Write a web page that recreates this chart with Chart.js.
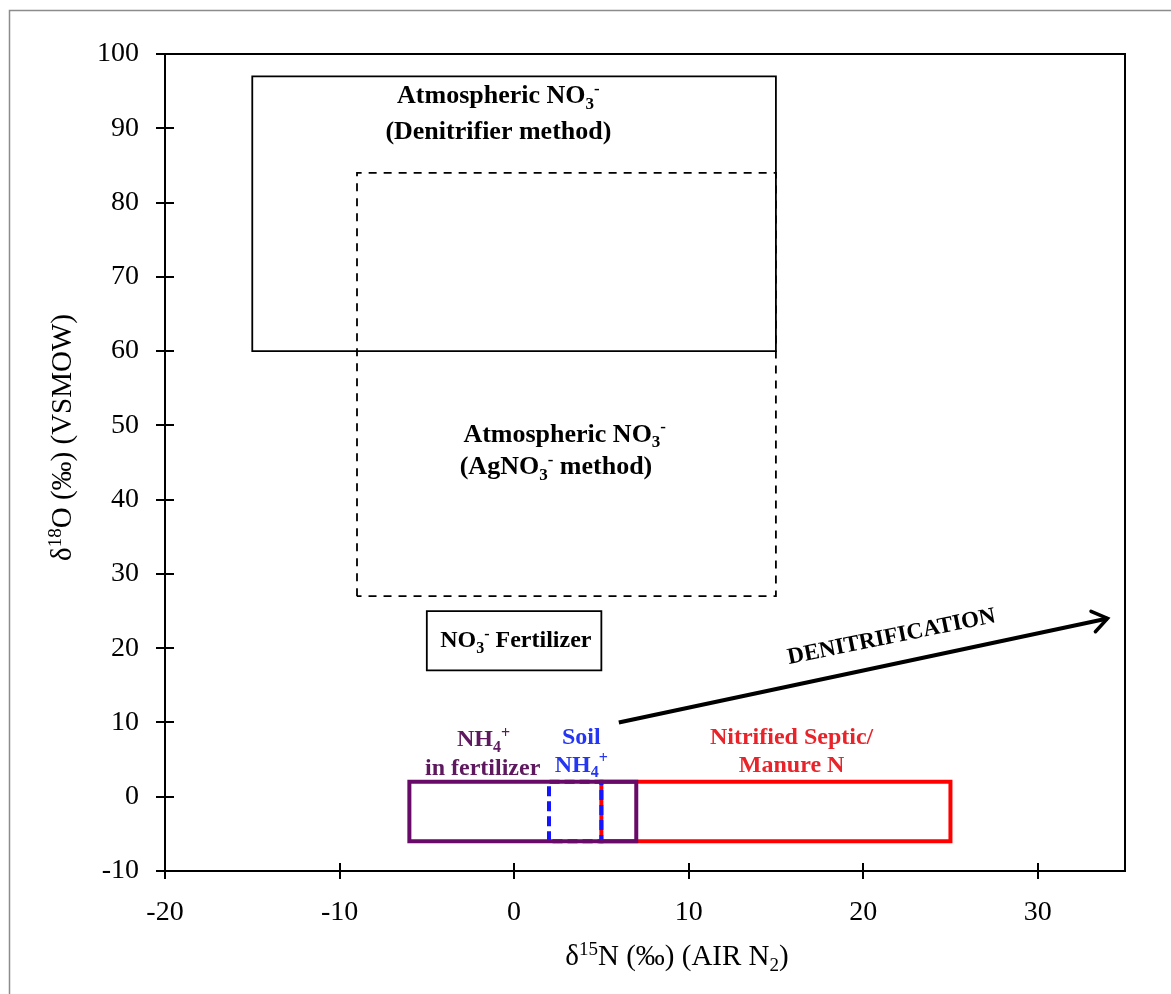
<!DOCTYPE html>
<html>
<head>
<meta charset="utf-8">
<script src="https://cdn.jsdelivr.net/npm/chart.js@4.4.1/dist/chart.umd.min.js"></script>
<style>
  body { margin: 0; background: #fff; }
  canvas { display: block; }
</style>
</head>
<body>
<canvas id="isoChart" width="1171" height="994"></canvas>
<script>
var xTicks = [-20, -10, 0, 10, 20, 30];
var yTicks = [-10, 0, 10, 20, 30, 40, 50, 60, 70, 80, 90, 100];

// nitrate source fields: d15N range (x) and d18O range (y), drawn bottom to top
var fieldNames = ['atmDenitrifier', 'atmAgNO3', 'no3Fertilizer', 'septicManure', 'soilNH4', 'nh4Fertilizer'];
var fieldN15Min = [-15, -9, -5, 5, 2, -6];
var fieldN15Max = [15, 15, 5, 25, 5, 7];
var fieldO18Min = [60, 27, 17, -6, -6, -6];
var fieldO18Max = [97, 84, 25, 2, 2, 2];

// denitrification trend arrow
var denitN15 = [6, 34];
var denitO18 = [10, 24];

var SERIF = '"Liberation Serif", "Times New Roman", serif';

var fieldStyle = {
    atmDenitrifier: { color: '#000000', width: 1.8, dash: [] },
    atmAgNO3:       { color: '#000000', width: 1.8, dash: [8, 7] },
    no3Fertilizer:  { color: '#000000', width: 1.8, dash: [] },
    septicManure:   { color: '#ff0000', width: 4, dash: [] },
    soilNH4:        { color: '#1414ff', width: 4, dash: [10, 5] },
    nh4Fertilizer:  { color: '#680a68', width: 4, dash: [] }
};

// text runs: [text, ''|'sub'|'sup'], anchored at the baseline centre
var boxLabels = [
    { x: -0.9, y: 93.4, size: 26, color: '#000', runs: [['Atmospheric NO', ''], ['3', 'sub'], ['-', 'sup']] },
    { x: -0.9, y: 88.6, size: 26, color: '#000', runs: [['(Denitrifier method)', '']] },
    { x: 2.9, y: 47.8, size: 26, color: '#000', runs: [['Atmospheric NO', ''], ['3', 'sub'], ['-', 'sup']] },
    { x: 2.4, y: 43.4, size: 26, color: '#000', runs: [['(AgNO', ''], ['3', 'sub'], ['-', 'sup'], [' method)', '']] },
    { x: 0.1, y: 20.1, size: 24, color: '#000', runs: [['NO', ''], ['3', 'sub'], ['-', 'sup'], [' Fertilizer', '']] },
    { x: -1.75, y: 6.8, size: 24, color: '#5e185e', runs: [['NH', ''], ['4', 'sub'], ['+', 'sup']] },
    { x: -1.8, y: 2.9, size: 24, color: '#5e185e', runs: [['in fertilizer', '']] },
    { x: 3.85, y: 7.05, size: 24, color: '#2436f2', runs: [['Soil', '']] },
    { x: 3.85, y: 3.35, size: 24, color: '#2436f2', runs: [['NH', ''], ['4', 'sub'], ['+', 'sup']] },
    { x: 15.9, y: 7.05, size: 24, color: '#e8242a', runs: [['Nitrified Septic/', '']] },
    { x: 15.9, y: 3.3, size: 24, color: '#e8242a', runs: [['Manure N', '']] }
];

function runFont(size, kind, bold) {
    var s = kind ? Math.round(size * 0.65) : size;
    return (bold ? 'bold ' : '') + s + 'px ' + SERIF;
}

function runsWidth(ctx, runs, size, bold) {
    var w = 0;
    runs.forEach(function (r) {
        ctx.font = runFont(size, r[1], bold);
        w += ctx.measureText(r[0]).width;
    });
    return w;
}

// draws runs centred on x with the baseline at y
function drawRuns(ctx, runs, x, y, size, bold) {
    var cx = x - runsWidth(ctx, runs, size, bold) / 2;
    ctx.textAlign = 'left';
    ctx.textBaseline = 'alphabetic';
    runs.forEach(function (r) {
        ctx.font = runFont(size, r[1], bold);
        var dy = r[1] === 'sub' ? size * 0.22 : (r[1] === 'sup' ? -size * 0.36 : 0);
        ctx.fillText(r[0], cx, y + dy);
        cx += ctx.measureText(r[0]).width;
    });
}

function boxPoints(i, closeTwice) {
    var x0 = fieldN15Min[i], x1 = fieldN15Max[i];
    var y0 = fieldO18Min[i], y1 = fieldO18Max[i];
    var pts = [{ x: x0, y: y0 }, { x: x0, y: y1 }, { x: x1, y: y1 }, { x: x1, y: y0 }, { x: x0, y: y0 }];
    if (closeTwice) pts.push({ x: x0, y: y1 });
    return pts;
}

var datasets = fieldNames.map(function (name, i) {
    var st = fieldStyle[name];
    return {
        label: name,
        data: boxPoints(i, st.dash.length === 0),
        showLine: true,
        fill: false,
        borderColor: st.color,
        borderWidth: st.width,
        borderDash: st.dash,
        borderJoinStyle: 'miter',
        pointRadius: 0,
        tension: 0,
        order: fieldNames.length - i + 1
    };
});

datasets.push({
    label: 'denitrification',
    data: denitN15.map(function (v, i) { return { x: v, y: denitO18[i] }; }),
    showLine: true,
    fill: false,
    borderColor: '#000',
    borderWidth: 4,
    pointRadius: 0,
    order: 0
});

var decorPlugin = {
    id: 'decor',
    beforeDraw: function (chart) {
        var ctx = chart.ctx;
        ctx.save();
        ctx.fillStyle = '#fff';
        ctx.fillRect(0, 0, chart.width, chart.height);
        ctx.strokeStyle = '#8c8c8c';
        ctx.lineWidth = 1.5;
        ctx.beginPath();
        ctx.moveTo(9.5, chart.height + 5);
        ctx.lineTo(9.5, 10.5);
        ctx.lineTo(chart.width + 5, 10.5);
        ctx.stroke();
        ctx.restore();
    },
    afterDatasetsDraw: function (chart) {
        var ctx = chart.ctx;
        var xs = chart.scales.x, ys = chart.scales.y;
        var a = chart.chartArea;
        ctx.save();

        // frame and crossing tick marks
        ctx.strokeStyle = '#000';
        ctx.lineWidth = 2;
        ctx.strokeRect(a.left, a.top, a.right - a.left, a.bottom - a.top);
        ctx.beginPath();
        yTicks.forEach(function (v) {
            var py = Math.round(ys.getPixelForValue(v));
            ctx.moveTo(a.left - 9, py);
            ctx.lineTo(a.left + 9, py);
        });
        xTicks.forEach(function (v) {
            var px = Math.round(xs.getPixelForValue(v));
            ctx.moveTo(px, a.bottom - 8);
            ctx.lineTo(px, a.bottom + 8);
        });
        ctx.stroke();

        // arrow head
        var x0 = xs.getPixelForValue(denitN15[0]), y0 = ys.getPixelForValue(denitO18[0]);
        var x1 = xs.getPixelForValue(denitN15[1]), y1 = ys.getPixelForValue(denitO18[1]);
        var ang = Math.atan2(y1 - y0, x1 - x0);
        var len = 18, spread = 0.62;
        ctx.lineWidth = 3.5;
        ctx.lineCap = 'round';
        ctx.lineJoin = 'miter';
        ctx.beginPath();
        ctx.moveTo(x1 - len * Math.cos(ang - spread), y1 - len * Math.sin(ang - spread));
        ctx.lineTo(x1, y1);
        ctx.lineTo(x1 - len * Math.cos(ang + spread), y1 - len * Math.sin(ang + spread));
        ctx.stroke();

        // field labels
        boxLabels.forEach(function (lb) {
            ctx.fillStyle = lb.color;
            drawRuns(ctx, lb.runs, xs.getPixelForValue(lb.x), ys.getPixelForValue(lb.y), lb.size, true);
        });

        // arrow label, along the trend
        ctx.fillStyle = '#000';
        ctx.translate(xs.getPixelForValue(21.7), ys.getPixelForValue(20.7));
        ctx.rotate(-0.2);
        drawRuns(ctx, [['DENITRIFICATION', '']], 0, 0, 23, true);
        ctx.restore();

        // axis titles
        ctx.save();
        ctx.fillStyle = '#000';
        var midX = (a.left + a.right) / 2;
        drawRuns(ctx, [['δ', ''], ['15', 'sup'], ['N (‰) (AIR N', ''], ['2', 'sub'], [')', '']],
            midX + 32, a.bottom + 94, 29, false);
        var midY = (a.top + a.bottom) / 2;
        ctx.translate(71, midY - 25);
        ctx.rotate(-Math.PI / 2);
        drawRuns(ctx, [['δ', ''], ['18', 'sup'], ['O (‰) (VSMOW)', '']], 0, 0, 29, false);
        ctx.restore();
    }
};

var ctx = document.getElementById('isoChart').getContext('2d');
var chart = new Chart(ctx, {
    type: 'scatter',
    data: { datasets: datasets },
    options: {
        responsive: false,
        animation: false,
        devicePixelRatio: 1,
        layout: { padding: { top: 54, right: 46, left: 0, bottom: 0 } },
        plugins: {
            legend: { display: false },
            tooltip: { enabled: false }
        },
        scales: {
            x: {
                type: 'linear',
                min: -20,
                max: 35,
                afterBuildTicks: function (s) { s.ticks = xTicks.map(function (v) { return { value: v }; }); },
                afterFit: function (s) { s.height = 123; },
                grid: { display: false, drawTicks: false },
                border: { display: false },
                ticks: { color: '#000', padding: 25, maxRotation: 0, font: { family: SERIF, size: 28 } }
            },
            y: {
                type: 'linear',
                min: -10,
                max: 100,
                afterBuildTicks: function (s) { s.ticks = yTicks.map(function (v) { return { value: v }; }); },
                afterFit: function (s) { s.width = 165; },
                grid: { display: false, drawTicks: false },
                border: { display: false },
                ticks: { color: '#000', padding: 26, font: { family: SERIF, size: 28 } }
            }
        }
    },
    plugins: [decorPlugin]
});
</script>
</body>
</html>
